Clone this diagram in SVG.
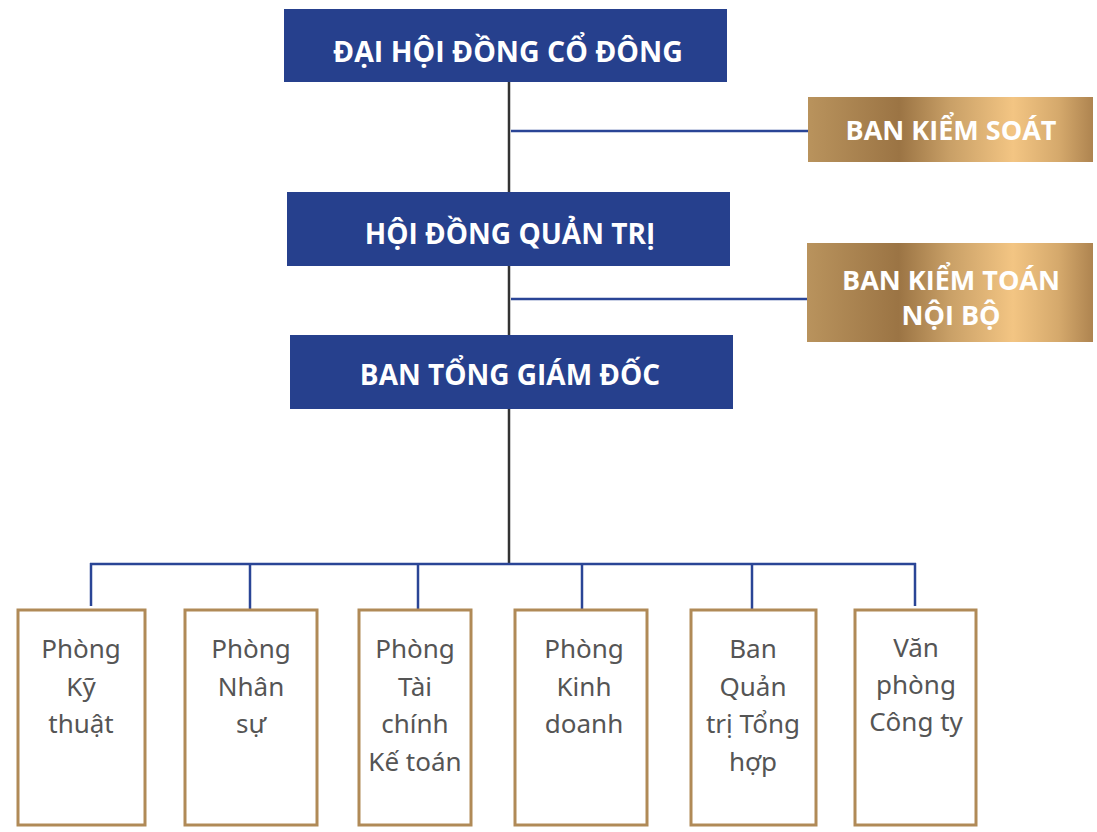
<svg xmlns="http://www.w3.org/2000/svg" width="1097" height="832" viewBox="0 0 1097 832">
<defs>
<linearGradient id="gold" x1="0" y1="0" x2="1" y2="0">
<stop offset="0" stop-color="#B9935D"/>
<stop offset="0.32" stop-color="#9B7444"/>
<stop offset="0.5" stop-color="#C9A067"/>
<stop offset="0.72" stop-color="#F3C583"/>
<stop offset="0.88" stop-color="#D5A96C"/>
<stop offset="1" stop-color="#AE8450"/>
</linearGradient>
<style>
.blue{fill:#26408D}
.goldbox{fill:url(#gold)}
.dept{fill:#FFFFFF;stroke:#B08A57;stroke-width:3}
.h{font-family:"Open Sans","Noto Sans",sans-serif;font-weight:700;fill:#FFFFFF;text-anchor:middle}
.t{font-family:"Noto Sans","Open Sans",sans-serif;font-size:26px;fill:#555555;text-anchor:middle}
.trunk{stroke:#333333;stroke-width:2.5;fill:none}
.bl{stroke:#2A4596;stroke-width:2.5;fill:none}
</style>
</defs>
<g id="connectors">
<line class="trunk" x1="509" y1="82" x2="509" y2="565"/>
<line class="bl" x1="511" y1="131" x2="808" y2="131"/>
<line class="bl" x1="511" y1="299" x2="807" y2="299"/>
<line class="bl" x1="90" y1="564" x2="916" y2="564"/>
<line class="bl" x1="91" y1="563" x2="91" y2="606"/>
<line class="bl" x1="250" y1="564" x2="250" y2="609"/>
<line class="bl" x1="418" y1="564" x2="418" y2="609"/>
<line class="bl" x1="582" y1="564" x2="582" y2="609"/>
<line class="bl" x1="752" y1="564" x2="752" y2="609"/>
<line class="bl" x1="915" y1="563" x2="915" y2="606"/>
</g>
<g id="dhdcd">
<rect class="blue" x="284" y="9" width="443" height="73"/>
<text class="h" x="508" y="62" font-size="28.5">ĐẠI HỘI ĐỒNG CỔ ĐÔNG</text>
</g>
<g id="hdqt">
<rect class="blue" x="287" y="192" width="443" height="74"/>
<text class="h" x="510" y="244" font-size="28">HỘI ĐỒNG QUẢN TRỊ</text>
</g>
<g id="btgd">
<rect class="blue" x="290" y="335" width="443" height="74"/>
<text class="h" x="510" y="385" font-size="28">BAN TỔNG GIÁM ĐỐC</text>
</g>
<g id="bks">
<rect class="goldbox" x="808" y="97" width="285" height="65"/>
<text class="h" x="951" y="140" font-size="27">BAN KIỂM SOÁT</text>
</g>
<g id="bktnb">
<rect class="goldbox" x="807" y="243" width="286" height="99"/>
<text class="h" x="951" y="290" font-size="27">BAN KIỂM TOÁN</text>
<text class="h" x="951" y="325" font-size="27">NỘI BỘ</text>
</g>
<g id="kythuat">
<rect class="dept" x="18" y="610" width="127" height="215"/>
<text class="t" x="81" y="658">Phòng</text>
<text class="t" x="81" y="696">Kỹ</text>
<text class="t" x="81" y="733">thuật</text>
</g>
<g id="nhansu">
<rect class="dept" x="185" y="610" width="132" height="215"/>
<text class="t" x="251" y="658">Phòng</text>
<text class="t" x="251" y="696">Nhân</text>
<text class="t" x="251" y="733">sự</text>
</g>
<g id="taichinh">
<rect class="dept" x="359" y="610" width="112" height="215"/>
<text class="t" x="415" y="658">Phòng</text>
<text class="t" x="415" y="696">Tài</text>
<text class="t" x="415" y="733">chính</text>
<text class="t" x="415" y="771">Kế toán</text>
</g>
<g id="kinhdoanh">
<rect class="dept" x="515" y="610" width="132" height="215"/>
<text class="t" x="584" y="658">Phòng</text>
<text class="t" x="584" y="696">Kinh</text>
<text class="t" x="584" y="733">doanh</text>
</g>
<g id="quantri">
<rect class="dept" x="691" y="610" width="125" height="215"/>
<text class="t" x="753" y="658">Ban</text>
<text class="t" x="753" y="696">Quản</text>
<text class="t" x="753" y="733">trị Tổng</text>
<text class="t" x="753" y="771">hợp</text>
</g>
<g id="vanphong">
<rect class="dept" x="855" y="610" width="121" height="215"/>
<text class="t" x="916" y="657">Văn</text>
<text class="t" x="916" y="694">phòng</text>
<text class="t" x="916" y="731">Công ty</text>
</g>
</svg>
